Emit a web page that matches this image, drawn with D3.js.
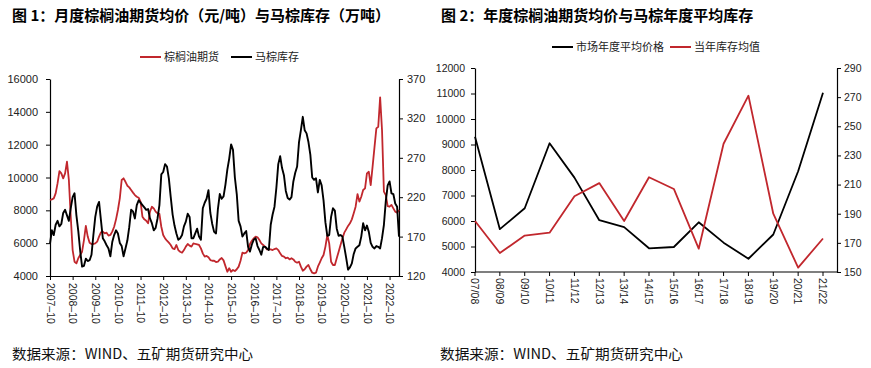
<!DOCTYPE html>
<html><head><meta charset="utf-8">
<script src="https://cdn.jsdelivr.net/npm/d3@7"></script>
<style>body{margin:0;background:#fff}svg{display:block}</style>
</head><body>
<svg id="c" width="871" height="368"></svg>
<script>
// ---------- DATA ----------
const monthStart = [2007, 10];
const palmPrice = [8630,8670,8730,9030,9640,10390,10250,9950,10250,10960,
 9850,7610,5580,4870,4770,5080,5280,5480,6190,7050,
 6400,6030,5950,5950,5990,6090,6400,6660,6700,6600,
 6640,6460,6500,6700,7000,7450,8020,8730,9850,9950,
 9740,9500,9400,9240,9080,8930,8830,8770,8530,7610,
 7450,7370,7210,7920,8220,8120,7920,7820,7780,7000,
 6500,6290,6150,6030,5890,5680,5640,5890,5580,5480,
 5420,5580,5790,5950,5850,5790,5990,5950,5930,5890,
 5680,5380,5180,5220,5140,4970,4930,4930,4850,4870,
 5010,5100,4950,4600,4260,4470,4260,4370,4300,4410,
 4570,4930,5420,5380,5420,5580,5950,6150,6290,6400,
 6360,6190,5990,5890,5790,5620,5640,5620,5580,5640,
 5680,5580,5380,5220,5180,5080,5120,5010,5080,5010,
 4870,4810,4870,4570,4320,4410,4570,4670,4410,4200,
 4160,4200,4570,4810,5080,5280,5790,6500,5990,4870,
 4670,4670,5080,5480,5890,6290,6640,6840,7050,7210,
 7450,7820,8220,8990,8530,8830,9240,9340,10250,10350,
 9540,10660,11840,12990,13090,14880,12890,9140,8930,8260,
 8220,8330,8120,7920,7860,8020];
const mpobStock = [161,178,172,185,190,183,186,200,204,197,
 190,206,220,225,197,177,152,132,133,142,
 139,140,147,172,195,208,214,191,168,164,
 159,155,145,163,172,178,174,162,158,145,
 155,165,182,204,202,193,210,216,213,210,
 207,204,205,193,187,178,181,193,210,249,
 252,262,259,244,220,198,184,174,166,168,
 172,183,189,199,195,168,168,174,180,170,
 166,206,213,218,229,200,186,176,174,205,
 224,218,221,236,255,269,287,280,245,224,
 190,183,170,174,177,157,151,160,166,168,
 158,153,147,157,157,155,153,185,198,208,
 232,262,272,257,248,228,219,217,220,240,
 251,259,290,305,322,305,301,290,274,245,
 242,244,226,242,235,216,188,171,172,195,
 206,203,180,171,172,170,157,143,128,131,
 136,148,155,157,159,170,187,178,184,176,
 162,157,155,158,157,155,168,185,215,235,
 240,225,224,212,208,170];
const leftPriceTicks = [4000,6000,8000,10000,12000,14000,16000];
const leftStockTicks = [120,170,220,270,320,370];

const yearLabels = ["07/08","08/09","09/10","10/11","11/12","12/13","13/14","14/15","15/16","16/17","17/18","18/19","19/20","20/21","21/22"];
const yearPrice = [9300,5680,6500,9050,7700,6030,5760,4930,4980,5950,5150,4520,5470,7950,11030];
const yearStock = [185,163,175,177,202,211,185,215,207,166,238,271,190,153,173];
const rightPriceTicks = [4000,5000,6000,7000,8000,9000,10000,11000,12000];
const rightStockTicks = [150,170,190,210,230,250,270,290];

const RED = "#C1272D", BLACK = "#000";
const NUM = "'Liberation Sans', Arial, sans-serif";
const CJK = "'Noto Sans CJK SC', sans-serif";

const svg = d3.select("#c");

function styleAxis(g, size) {
  g.select(".domain").attr("stroke", "#000").attr("stroke-width", 1.2);
  g.selectAll(".tick line").attr("stroke", "#000").attr("stroke-width", 1);
  g.selectAll(".tick text").attr("fill", "#222").style("font-family", NUM).style("font-size", size + "px");
}

// ---------- CHART 1 ----------
(function(){
  const n = palmPrice.length;
  const x = d3.scaleLinear().domain([0, n - 1]).range([50, 399]);
  const yP = d3.scaleLinear().domain([4000, 16000]).range([276, 79]);
  const yS = d3.scaleLinear().domain([120, 370]).range([276, 79]);
  const t0 = new Date(monthStart[0], monthStart[1] - 1, 1);
  const dates = d3.range(n).map(i => d3.timeMonth.offset(t0, i));
  const fmt = d3.timeFormat("%Y–%m");

  svg.append("text").attr("x", 12).attr("y", 21)
    .style("font-family", CJK).style("font-weight", 700).style("font-size", "15px")
    .text("图 1：月度棕榈油期货均价（元/吨）与马棕库存（万吨）");

  const gl = svg.append("g").attr("transform", "translate(50,0)")
    .call(d3.axisLeft(yP).tickValues(leftPriceTicks).tickSize(4).tickSizeOuter(0).tickPadding(8).tickFormat(d3.format("d")));
  styleAxis(gl, 11);
  const gr = svg.append("g").attr("transform", "translate(399,0)")
    .call(d3.axisRight(yS).tickValues(leftStockTicks).tickSize(4).tickSizeOuter(0).tickPadding(4).tickFormat(d3.format("d")));
  styleAxis(gr, 11);

  const xt = d3.range(0, n, 12);
  const gx = svg.append("g").attr("transform", "translate(0,276)")
    .call(d3.axisBottom(x).tickValues(xt).tickSize(4).tickSizeOuter(0).tickFormat(""));
  styleAxis(gx, 11);
  gx.selectAll(".tick").append("text")
    .attr("transform", "translate(0,7) rotate(90)")
    .attr("dy", "0.35em").attr("text-anchor", "start")
    .style("font-family", NUM).style("font-size", "10.5px").attr("fill", "#222")
    .text(i => fmt(dates[i]));

  const lineP = d3.line().x((d, i) => x(i)).y(d => yP(d));
  const lineS = d3.line().x((d, i) => x(i)).y(d => yS(d));
  svg.append("path").datum(palmPrice).attr("d", lineP).attr("fill", "none")
    .attr("stroke", RED).attr("stroke-width", 1.8).attr("stroke-linejoin", "round");
  svg.append("path").datum(mpobStock).attr("d", lineS).attr("fill", "none")
    .attr("stroke", BLACK).attr("stroke-width", 1.9).attr("stroke-linejoin", "round");

  const lg = svg.append("g");
  const items = [{x: 140, c: RED, t: "棕榈油期货"}, {x: 231, c: BLACK, t: "马棕库存"}];
  items.forEach(it => {
    lg.append("line").attr("x1", it.x).attr("x2", it.x + 21).attr("y1", 57).attr("y2", 57)
      .attr("stroke", it.c).attr("stroke-width", 2);
    lg.append("text").attr("x", it.x + 24).attr("y", 57).attr("dy", "0.35em")
      .style("font-family", CJK).style("font-size", "11px").attr("fill", "#222").text(it.t);
  });

  svg.append("text").attr("x", 12).attr("y", 359)
    .style("font-family", CJK).style("font-size", "14px").attr("fill", "#111")
    .attr("textLength", 241).attr("lengthAdjust", "spacingAndGlyphs")
    .text("数据来源：WIND、五矿期货研究中心");
})();

// ---------- CHART 2 ----------
(function(){
  const x = d3.scalePoint().domain(yearLabels).range([475, 823]);
  const yP = d3.scaleLinear().domain([4000, 12000]).range([272, 68]);
  const yS = d3.scaleLinear().domain([150, 290]).range([272, 68]);

  svg.append("text").attr("x", 441).attr("y", 21)
    .style("font-family", CJK).style("font-weight", 700).style("font-size", "15px")
    .text("图 2：年度棕榈油期货均价与马棕年度平均库存");

  const gl = svg.append("g").attr("transform", "translate(475,0)")
    .call(d3.axisLeft(yP).tickValues(rightPriceTicks).tickSize(4).tickSizeOuter(0).tickPadding(6).tickFormat(d3.format("d")));
  styleAxis(gl, 10.5);
  const gr = svg.append("g").attr("transform", "translate(837,0)")
    .call(d3.axisRight(yS).tickValues(rightStockTicks).tickSize(4).tickSizeOuter(0).tickPadding(3).tickFormat(d3.format("d")));
  styleAxis(gr, 10.5);

  const gx = svg.append("g").attr("transform", "translate(0,272)");
  gx.append("line").attr("x1", 475).attr("x2", 837).attr("stroke", "#000").attr("stroke-width", 1.2);
  const ticks = gx.selectAll(".tk").data(yearLabels).enter().append("g")
    .attr("transform", d => `translate(${x(d)},0)`);
  ticks.append("line").attr("y2", 4).attr("stroke", "#000");
  ticks.append("text").attr("transform", "translate(0,6) rotate(90)")
    .attr("dy", "0.35em").attr("text-anchor", "start")
    .style("font-family", NUM).style("font-size", "10.5px").attr("fill", "#222").text(d => d);

  svg.append("path").datum(yearPrice)
    .attr("d", d3.line().x((d, i) => x(yearLabels[i])).y(d => yP(d)))
    .attr("fill", "none").attr("stroke", BLACK).attr("stroke-width", 1.8).attr("stroke-linejoin", "round");
  svg.append("path").datum(yearStock)
    .attr("d", d3.line().x((d, i) => x(yearLabels[i])).y(d => yS(d)))
    .attr("fill", "none").attr("stroke", RED).attr("stroke-width", 1.8).attr("stroke-linejoin", "round");

  const lg = svg.append("g");
  const items = [{x: 552, c: BLACK, t: "市场年度平均价格"}, {x: 670, c: RED, t: "当年库存均值"}];
  items.forEach(it => {
    lg.append("line").attr("x1", it.x).attr("x2", it.x + 21).attr("y1", 47).attr("y2", 47)
      .attr("stroke", it.c).attr("stroke-width", 2);
    lg.append("text").attr("x", it.x + 24).attr("y", 47).attr("dy", "0.35em")
      .style("font-family", CJK).style("font-size", "11px").attr("fill", "#222").text(it.t);
  });

  svg.append("text").attr("x", 440).attr("y", 359)
    .style("font-family", CJK).style("font-size", "14px").attr("fill", "#111")
    .attr("textLength", 243).attr("lengthAdjust", "spacingAndGlyphs")
    .text("数据来源：WIND、五矿期货研究中心");
})();
</script>
</body></html>
